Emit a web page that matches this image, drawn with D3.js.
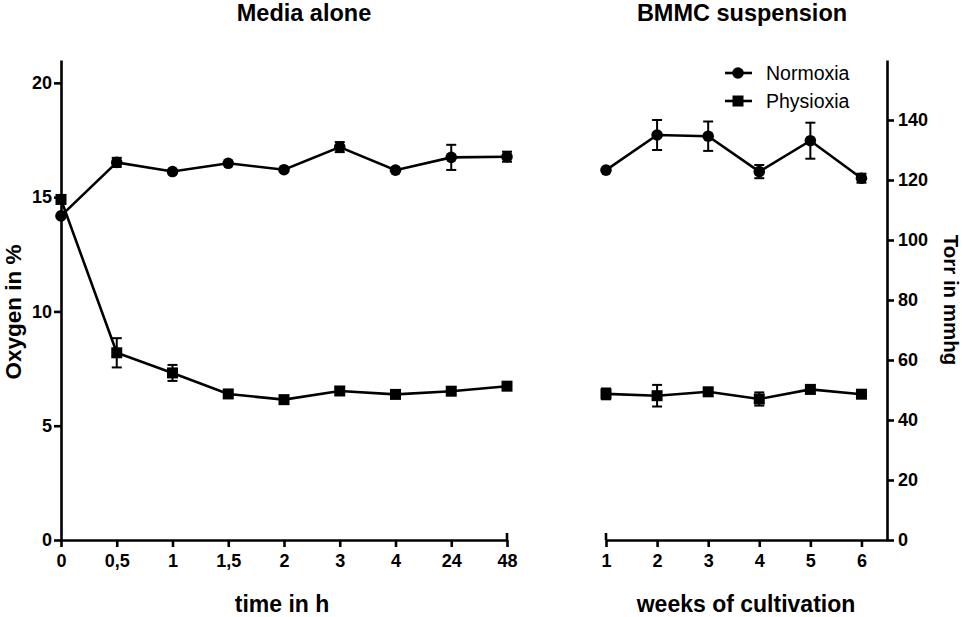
<!DOCTYPE html>
<html><head><meta charset="utf-8">
<script src="https://cdn.jsdelivr.net/npm/d3@7"></script>
<style>
body{margin:0;background:#fff;}
svg{display:block;font-family:"Liberation Sans",Arial,sans-serif;}
</style></head>
<body><svg id="c" width="965" height="617"></svg>
<script>
// Left panel: Media alone (Oxygen in %)
const timeLabels = ["0","0,5","1","1,5","2","3","4","24","48"];
const mediaNormoxia    = [14.18,16.52,16.12,16.48,16.20,17.19,16.18,16.74,16.77];
const mediaNormoxiaErr = [0.05,0.20,0.05,0.05,0.05,0.22,0.05,0.55,0.22];
const mediaPhysioxia    = [14.90,8.19,7.31,6.39,6.14,6.52,6.37,6.51,6.73];
const mediaPhysioxiaErr = [0.05,0.64,0.35,0.05,0.05,0.05,0.05,0.05,0.05];
// Right panel: BMMC suspension (Torr in mmHg)
const weeks = [1,2,3,4,5,6];
const bmmcNormoxia    = [123.3,135.0,134.6,122.8,133.1,120.6];
const bmmcNormoxiaErr = [0.5,5.0,4.9,2.2,6.0,1.5];
const bmmcPhysioxia    = [48.7,48.1,49.4,47.0,50.2,48.6];
const bmmcPhysioxiaErr = [1.8,3.6,1.3,2.2,1.3,0.5];
const leftTicks = [0,5,10,15,20];
const rightTicks = [0,20,40,60,80,100,120,140];

const svg = d3.select("#c");
const y0 = 540, yTop = 60;
const yL = d3.scaleLinear().domain([0,21]).range([y0,yTop]);
const yR = d3.scaleLinear().domain([0,160]).range([y0,yTop]);
const xL = d3.scalePoint().domain(timeLabels).range([61,507]);
const xR = d3.scaleLinear().domain([1,6.5]).range([606,887]);

const SW = 2.6, TICKFS = 18;
function styleAxis(g){
  g.attr("font-size",TICKFS).attr("font-family",null);
  g.select(".domain").attr("stroke","#000").attr("stroke-width",SW);
  g.selectAll(".tick line").attr("stroke","#000").attr("stroke-width",SW);
  g.selectAll(".tick text").attr("fill","#000").style("font-size",TICKFS+"px").attr("font-weight","bold");
}
// Left y axis
svg.append("g").attr("transform","translate(61,0)")
  .call(d3.axisLeft(yL).tickValues(leftTicks).tickSize(7).tickSizeOuter(0).tickPadding(2))
  .call(styleAxis);
// Left x axis
svg.append("g").attr("transform",`translate(0,${y0})`)
  .call(d3.axisBottom(xL).tickSize(7).tickSizeOuter(0).tickPadding(7))
  .call(styleAxis);
// Right x axis
svg.append("g").attr("transform",`translate(0,${y0})`)
  .call(d3.axisBottom(xR).tickValues(weeks).tickFormat(d3.format("d")).tickSize(7).tickSizeOuter(0).tickPadding(7))
  .call(styleAxis);
// End caps (upward) at week 1 and at 48 h
[[xR(1)],[xL("48")]].forEach(([x])=>svg.append("line").attr("x1",x).attr("x2",x).attr("y1",y0-7).attr("y2",y0)
  .attr("stroke","#000").attr("stroke-width",SW));
// Right y axis
svg.append("g").attr("transform","translate(887,0)")
  .call(d3.axisRight(yR).tickValues(rightTicks).tickSize(7).tickSizeOuter(0).tickPadding(4))
  .call(styleAxis);

function drawSeries(xs, ys, errs, xScale, yScale, shape){
  const pts = xs.map((x,i)=>({x:xScale(x), y:yScale(ys[i]), lo:yScale(ys[i]-errs[i]), hi:yScale(ys[i]+errs[i])}));
  const g = svg.append("g");
  g.append("path").attr("d", d3.line().x(d=>d.x).y(d=>d.y)(pts))
    .attr("fill","none").attr("stroke","#000").attr("stroke-width",SW);
  pts.forEach(p=>{
    if (Math.abs(p.lo-p.hi) > 6) {
      g.append("line").attr("x1",p.x).attr("x2",p.x).attr("y1",p.lo).attr("y2",p.hi).attr("stroke","#000").attr("stroke-width",2);
      [p.lo,p.hi].forEach(yy=>g.append("line").attr("x1",p.x-5).attr("x2",p.x+5).attr("y1",yy).attr("y2",yy).attr("stroke","#000").attr("stroke-width",2));
    }
    if (shape==="circle") g.append("circle").attr("cx",p.x).attr("cy",p.y).attr("r",5.8).attr("fill","#000");
    else g.append("rect").attr("x",p.x-5.5).attr("y",p.y-5.5).attr("width",11).attr("height",11).attr("fill","#000");
  });
}
drawSeries(timeLabels, mediaPhysioxia, mediaPhysioxiaErr, xL, yL, "square");
drawSeries(timeLabels, mediaNormoxia, mediaNormoxiaErr, xL, yL, "circle");
drawSeries(weeks, bmmcNormoxia, bmmcNormoxiaErr, xR, yR, "circle");
drawSeries(weeks, bmmcPhysioxia, bmmcPhysioxiaErr, xR, yR, "square");

// Legend
const legend = [{name:"Normoxia",shape:"circle",y:73},{name:"Physioxia",shape:"square",y:101}];
legend.forEach(l=>{
  svg.append("line").attr("x1",725).attr("x2",752).attr("y1",l.y).attr("y2",l.y).attr("stroke","#000").attr("stroke-width",SW);
  if (l.shape==="circle") svg.append("circle").attr("cx",738).attr("cy",l.y).attr("r",5.8).attr("fill","#000");
  else svg.append("rect").attr("x",732.5).attr("y",l.y-5.5).attr("width",11).attr("height",11).attr("fill","#000");
  svg.append("text").attr("x",766).attr("y",l.y+6.5).attr("font-size",19.5).text(l.name);
});

// Titles
const bold = (x,y,t,size)=>svg.append("text").attr("x",x).attr("y",y).attr("text-anchor","middle")
  .attr("font-size",size).attr("font-weight","bold").text(t);
bold(304,21,"Media alone",23.5);
bold(742,21,"BMMC suspension",23.5);
bold(282,612,"time in h",23);
bold(746,612,"weeks of cultivation",23);
svg.append("text").attr("transform","translate(21,312) rotate(-90)").attr("text-anchor","middle")
  .attr("font-size",22.5).attr("font-weight","bold").text("Oxygen in %");
svg.append("text").attr("transform","translate(944,300) rotate(90)").attr("text-anchor","middle")
  .attr("font-size",20.5).attr("font-weight","bold").text("Torr in mmhg");
</script></body></html>
